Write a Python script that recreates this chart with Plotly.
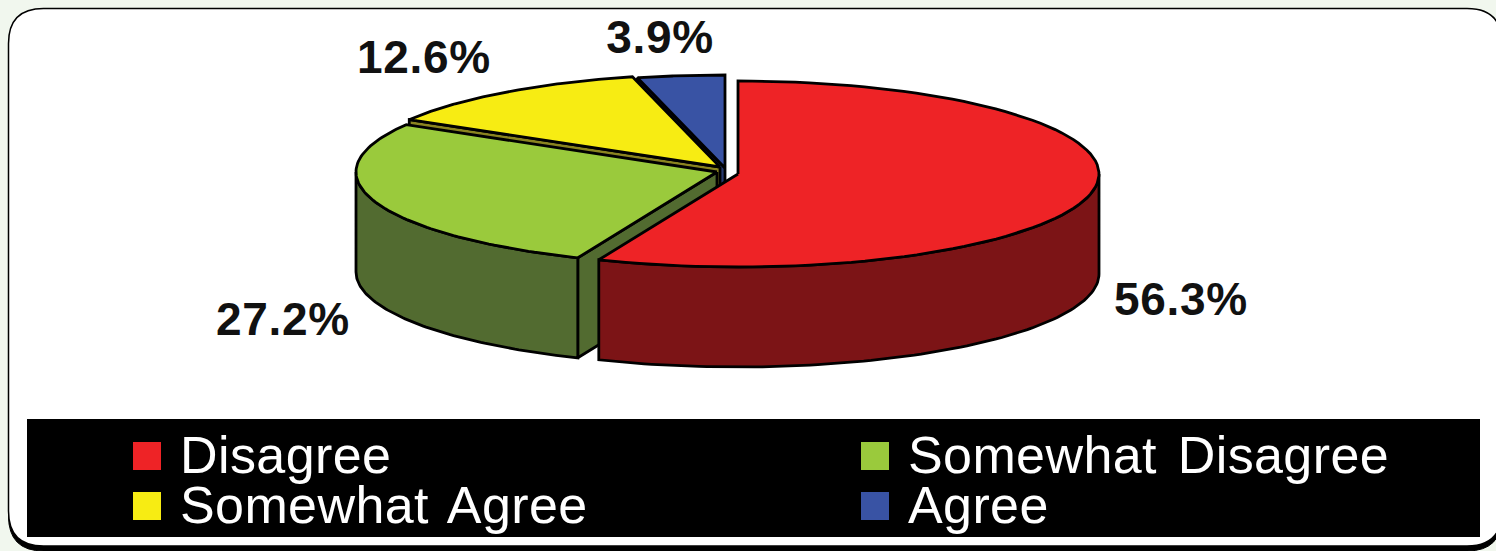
import numpy as np
import plotly.graph_objects as go

# --- data ---
labels = ["Disagree", "Somewhat Disagree", "Somewhat Agree", "Agree"]
values = [56.3, 27.2, 12.6, 3.9]

# --- style ---
top_colors = ["#EE2326", "#9ACA3C", "#F7EC13", "#3953A4"]
side_colors = ["#7C1416", "#526B30", "#8A8420", "#27396F"]
apex_x = [738, 717, 720, 725]
apex_y = [174, 172, 167, 168]
label_x = [1181, 283, 424, 660]
label_y = [303, 323, 61, 41]
legend_x = [147, 875, 147, 875]
legend_y = [456, 456, 506, 506]
legend_text_x = [180, 908, 180, 908]
legend_text_y = [460, 460, 510, 510]
RX, RY, DEPTH = 361, 93, 100
INK = "#000000"
LW = 2.8

bounds = np.concatenate([[0], np.cumsum(values)]) * 3.6


def arc(cx, cy, a0, a1, dy=0):
    t = np.radians(np.linspace(a0, a1, 90))
    return cx + RX * np.sin(t), cy - RY * np.cos(t) + dy


def poly(xs, ys, color):
    return go.Scatter(x=np.round(xs, 2).tolist(), y=np.round(ys, 2).tolist(), mode="lines",
                      fill="toself", fillcolor=color,
                      line=dict(color=INK, width=LW), hoverinfo="skip", showlegend=False)


def wall(cx, cy, a0, a1, color):
    x1, y1 = arc(cx, cy, a0, a1)
    x2, y2 = arc(cx, cy, a1, a0, DEPTH)
    return poly(np.r_[x1, x2, x1[0]], np.r_[y1, y2, y1[0]], color)


def cut(cx, cy, a, color):
    x, y = arc(cx, cy, a, a)
    return poly([cx, x[0], x[0], cx, cx], [cy, y[0], y[0] + DEPTH, cy + DEPTH, cy], color)


def top(cx, cy, a0, a1, color):
    x, y = arc(cx, cy, a0, a1)
    return poly(np.r_[cx, x, cx], np.r_[cy, y, cy], color)


fig = go.Figure()

# back slices first, front slices last
for i in (3, 2):
    fig.add_trace(cut(apex_x[i], apex_y[i], bounds[i], side_colors[i]))
    fig.add_trace(top(apex_x[i], apex_y[i], bounds[i], bounds[i + 1], top_colors[i]))

fig.add_trace(cut(apex_x[1], apex_y[1], bounds[1], side_colors[1]))
fig.add_trace(wall(apex_x[1], apex_y[1], bounds[1], 270, side_colors[1]))
fig.add_trace(top(apex_x[1], apex_y[1], bounds[1], bounds[2], top_colors[1]))

fig.add_trace(wall(apex_x[0], apex_y[0], 90, bounds[1], side_colors[0]))
fig.add_trace(top(apex_x[0], apex_y[0], bounds[0], bounds[1], top_colors[0]))

# percentage labels
fig.add_trace(go.Scatter(x=label_x, y=label_y, mode="text",
                         text=[f"{v}%" for v in values], textposition="middle center",
                         textfont=dict(family="Liberation Sans", size=46, color="#111111", weight="bold"),
                         hoverinfo="skip", showlegend=False))

# legend
fig.add_trace(go.Scatter(x=legend_x, y=legend_y, mode="markers",
                         marker=dict(symbol="square", size=28, color=top_colors, line=dict(width=0)),
                         hoverinfo="skip", showlegend=False))
fig.add_trace(go.Scatter(x=legend_text_x, y=legend_text_y, mode="text", text=labels,
                         textposition="middle right",
                         textfont=dict(family="Liberation Sans", size=52, color="#FFFFFF"),
                         hoverinfo="skip", showlegend=False))


def card(dy=0):
    l, t, r, b, k = 8.5, 8.5 + dy, 1502, 546 + dy, 35
    return (f"M{l},{t + k} Q{l},{t} {l + k},{t} L{r - k},{t} Q{r},{t} {r},{t + k} "
            f"L{r},{b - k} Q{r},{b} {r - k},{b} L{l + k},{b} Q{l},{b} {l},{b - k} Z")


fig.update_layout(
    width=1496, height=551, margin=dict(l=0, r=0, t=0, b=0),
    paper_bgcolor="#F1F7EE", plot_bgcolor="rgba(0,0,0,0)",
    xaxis=dict(range=[0, 1496], visible=False, fixedrange=True),
    yaxis=dict(range=[551, 0], visible=False, fixedrange=True),
    showlegend=False,
    shapes=[
        dict(type="path", path=card(5), xref="x", yref="y", fillcolor="#000000",
             line=dict(color="#000000", width=1), layer="below"),
        dict(type="path", path=card(), xref="x", yref="y", fillcolor="#FFFFFF",
             line=dict(color="#000000", width=1.5), layer="below"),
        dict(type="rect", x0=27, x1=1480, y0=419, y1=537, xref="x", yref="y",
             fillcolor="#000000", line=dict(width=0), layer="below"),
    ],
)

page_fix = """
document.documentElement.style.overflow = 'hidden';
document.body.style.margin = '0';
document.querySelectorAll('.textpoint text').forEach(function (t) {
  if (t.textContent.indexOf('%') < 0) {
    t.style.letterSpacing = '0.4px';
    t.style.wordSpacing = '6px';
  } else {
    t.style.letterSpacing = '0.7px';
  }
});
"""
fig.write_html("out.html", config={"displayModeBar": False}, post_script=page_fix)
